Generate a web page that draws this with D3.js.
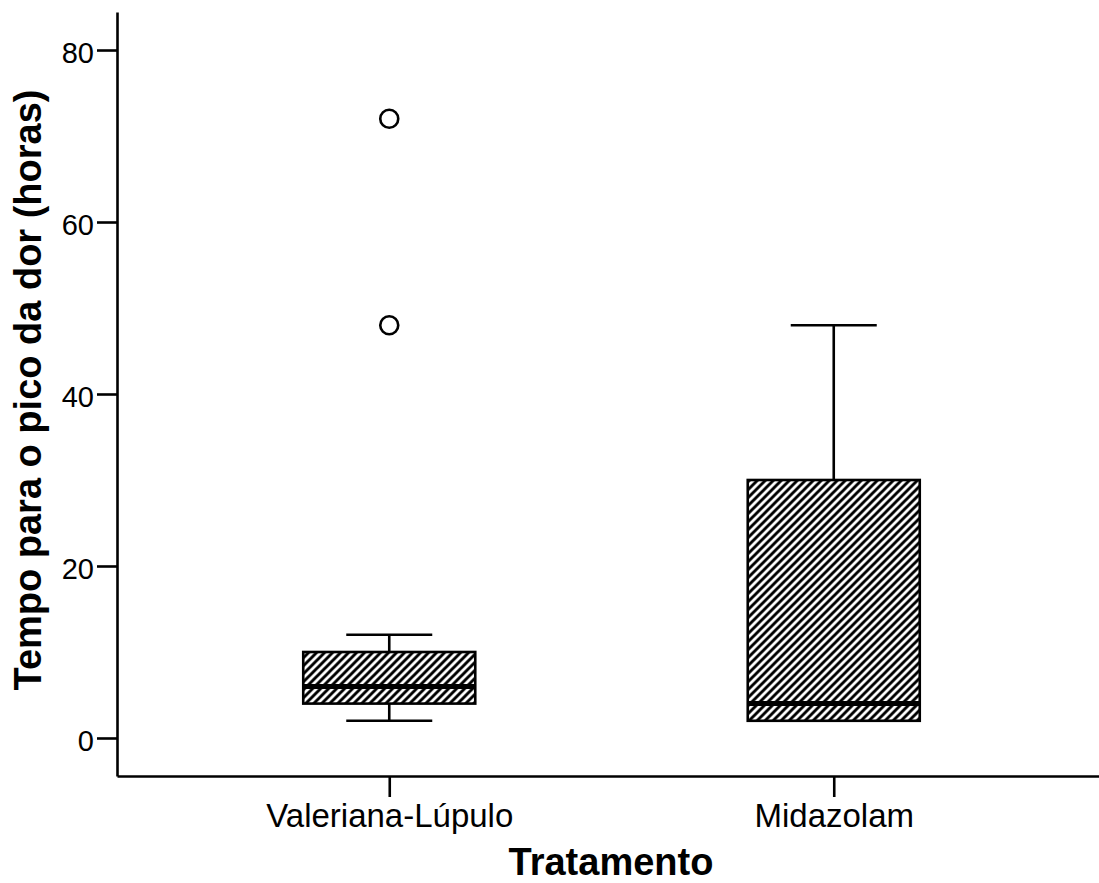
<!DOCTYPE html>
<html>
<head>
<meta charset="utf-8">
<script src="https://cdn.jsdelivr.net/npm/d3@7"></script>
<style>
  body { margin: 0; background: #fff; }
  svg text { font-family: "Liberation Sans", Arial, sans-serif; fill: #000; }
</style>
</head>
<body>
<div class="boxplot_chart"></div>
<script>
// values
var categories = ["Valeriana-Lúpulo", "Midazolam"];
var whiskerLow = [2, 2];
var q1 = [4, 2];
var median = [6, 4];
var q3 = [10, 30];
var whiskerHigh = [12, 48];
var outliers = [[48, 72], []];
var yTicks = [0, 20, 40, 60, 80];

var W = 1099, H = 883;
var margin = { top: 12, left: 117, bottom: 107 };
var plotW = 989, plotH = H - margin.top - margin.bottom;

var data = categories.map(function (c, i) {
  return {
    name: c, lo: whiskerLow[i], q1: q1[i], med: median[i],
    q3: q3[i], hi: whiskerHigh[i], out: outliers[i]
  };
});

var svg = d3.select(".boxplot_chart").append("svg")
  .attr("width", W).attr("height", H);

// hatch pattern
var defs = svg.append("defs");
defs.append("pattern")
  .attr("id", "hatch")
  .attr("patternUnits", "userSpaceOnUse")
  .attr("width", 8).attr("height", 8)
  .append("path")
  .attr("d", "M-2,2 l4,-4 M0,8 l8,-8 M6,10 l4,-4")
  .attr("stroke", "#000")
  .attr("stroke-width", 2.9);

var x = d3.scalePoint().domain(categories).range([0, plotW]).padding(0.6125);
var y = d3.scaleLinear().domain([-4.42, 84.42]).range([plotH, 0]);

var chart = svg.append("g")
  .attr("transform", "translate(" + margin.left + "," + margin.top + ")");

var boxW = x.step() * 0.387;
var lw = 2.6;

var box = chart.selectAll(".box").data(data).enter().append("g")
  .attr("class", "box")
  .attr("transform", function (d) { return "translate(" + x(d.name) + ",0)"; });

// whisker stems
box.append("line")
  .attr("x1", 0).attr("x2", 0)
  .attr("y1", function (d) { return y(d.hi); })
  .attr("y2", function (d) { return y(d.lo); })
  .attr("stroke", "#000").attr("stroke-width", lw);

// caps
box.append("line")
  .attr("x1", -boxW / 4).attr("x2", boxW / 4)
  .attr("y1", function (d) { return y(d.hi); })
  .attr("y2", function (d) { return y(d.hi); })
  .attr("stroke", "#000").attr("stroke-width", lw);
box.append("line")
  .attr("x1", -boxW / 4).attr("x2", boxW / 4)
  .attr("y1", function (d) { return y(d.lo); })
  .attr("y2", function (d) { return y(d.lo); })
  .attr("stroke", "#000").attr("stroke-width", lw);

// boxes
box.append("rect")
  .attr("x", -boxW / 2)
  .attr("width", boxW)
  .attr("y", function (d) { return y(d.q3); })
  .attr("height", function (d) { return y(d.q1) - y(d.q3); })
  .attr("fill", "#fff");
box.append("rect")
  .attr("x", -boxW / 2)
  .attr("width", boxW)
  .attr("y", function (d) { return y(d.q3); })
  .attr("height", function (d) { return y(d.q1) - y(d.q3); })
  .attr("fill", "url(#hatch)")
  .attr("stroke", "#000").attr("stroke-width", lw);

// median
box.append("line")
  .attr("x1", -boxW / 2).attr("x2", boxW / 2)
  .attr("y1", function (d) { return y(d.med); })
  .attr("y2", function (d) { return y(d.med); })
  .attr("stroke", "#000").attr("stroke-width", 5);

// outliers
box.selectAll(".out").data(function (d) { return d.out; }).enter()
  .append("circle")
  .attr("class", "out")
  .attr("cx", 0)
  .attr("cy", function (v) { return y(v); })
  .attr("r", 9)
  .attr("fill", "#fff")
  .attr("stroke", "#000").attr("stroke-width", 2.6);

// y axis
var yAxis = chart.append("g").attr("class", "y axis")
  .call(d3.axisLeft(y).tickValues(yTicks).tickSize(20).tickPadding(3).tickSizeOuter(0));
yAxis.select(".domain").attr("stroke-width", 2.6);
yAxis.selectAll(".tick line").attr("stroke-width", 2.6);
yAxis.selectAll(".tick text")
  .attr("font-size", "29px")
  .attr("dy", "0.42em");

// x axis
var xAxis = chart.append("g").attr("class", "x axis")
  .attr("transform", "translate(0," + plotH + ")")
  .call(d3.axisBottom(x).tickSize(21).tickPadding(7).tickSizeOuter(0));
xAxis.select(".domain").attr("stroke-width", 2.6);
xAxis.selectAll(".tick line").attr("stroke-width", 2.6);
xAxis.selectAll(".tick text").attr("font-size", "33px");

// axis titles
svg.append("text")
  .attr("x", 611)
  .attr("y", 875)
  .attr("text-anchor", "middle")
  .attr("font-size", "38px")
  .attr("font-weight", "bold")
  .text("Tratamento");

svg.append("text")
  .attr("transform", "translate(41,390) rotate(-90)")
  .attr("text-anchor", "middle")
  .attr("font-size", "38px")
  .attr("font-weight", "bold")
  .text("Tempo para o pico da dor (horas)");
</script>
</body>
</html>
